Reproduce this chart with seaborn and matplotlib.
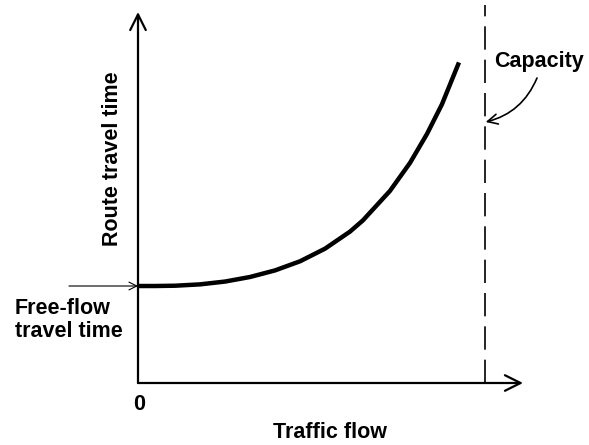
import matplotlib
matplotlib.use("Agg")
import matplotlib.pyplot as plt
import seaborn as sns
import pandas as pd

# Route travel time versus traffic flow (flow in % of capacity, time relative to free-flow)
traffic_flow = [0, 4.9, 10.7, 17.9, 25.1, 32.3, 39.5, 46.7, 53.9, 61.1, 64.8,
                72.6, 78.4, 83.3, 87.6, 92.5]
travel_time = [1.000, 1.000, 1.003, 1.017, 1.046, 1.093, 1.161, 1.255, 1.385,
               1.561, 1.676, 1.980, 2.270, 2.569, 2.874, 3.305]
capacity = 100
free_flow_time = 1.0

x_label = "Traffic flow"
y_label = "Route travel time"
origin_label = "0"
free_flow_label = "Free-flow\ntravel time"
capacity_label = "Capacity"

W, H = 589, 445
sns.set_style("white")
plt.rcParams["font.family"] = ["Liberation Sans", "DejaVu Sans"]
plt.rcParams["text.color"] = "black"

fig = plt.figure(figsize=(W / 100, H / 100), dpi=100)


def fx(px):
    return px / W


def fy(py):
    return 1 - py / H


ax = fig.add_axes([fx(138), fy(383), (523 - 138) / W, (383 - 12) / H])
ax.set_xlim(0, 110.95)
ax.set_ylim(0, 3.825)
for s in ax.spines.values():
    s.set_visible(False)
ax.set_xticks([])
ax.set_yticks([])
ax.patch.set_alpha(0)

df = pd.DataFrame({"flow": traffic_flow, "time": travel_time})
sns.lineplot(data=df, x="flow", y="time", ax=ax, color="black", lw=3.2,
             solid_capstyle="butt", solid_joinstyle="round", clip_on=False)
ax.set_xlabel("")
ax.set_ylabel("")

# axes with arrowheads
arrow_kw = dict(arrowstyle="->", lw=1.6, color="black", shrinkA=0, shrinkB=0,
                mutation_scale=28)
ax.annotate("", xy=(1, 0), xytext=(0, 0), xycoords="axes fraction",
            textcoords="axes fraction", arrowprops=arrow_kw)
ax.annotate("", xy=(0, 1), xytext=(0, 0), xycoords="axes fraction",
            textcoords="axes fraction", arrowprops=arrow_kw)

# capacity line
ax.plot([capacity, capacity], [0, 3.90], color="black", lw=1.2,
        dashes=(14, 6), clip_on=False)

# free-flow pointer
ax.annotate("", xy=(0, free_flow_time), xytext=(-19.9, free_flow_time),
            arrowprops=dict(arrowstyle="->", lw=0.8, color="black",
                            shrinkA=0, shrinkB=0, mutation_scale=14),
            annotation_clip=False)

fs = 15.5
tk = dict(fontsize=fs, fontweight="bold", color="black")
fig.text(fx(330), fy(433), x_label, ha="center", va="center", **tk)
fig.text(fx(112), fy(159), y_label, ha="center", va="center", rotation=90, **tk)
fig.text(fx(139), fy(405), origin_label, ha="center", va="center", **tk)
fig.text(fx(15), fy(320), free_flow_label, ha="left", va="center",
         linespacing=1.15, **tk)
fig.text(fx(494), fy(61), capacity_label, ha="left", va="center", **tk)

# curved pointer to capacity line
ax.annotate("", xy=(capacity + 0.2, (383 - 122) / 97), xytext=(fx(537), fy(78)),
            textcoords="figure fraction",
            arrowprops=dict(arrowstyle="->", lw=1.2, color="black",
                            shrinkA=0, shrinkB=0, mutation_scale=18,
                            connectionstyle="arc3,rad=-0.25"),
            annotation_clip=False)

fig.savefig("out.png", dpi=100)
